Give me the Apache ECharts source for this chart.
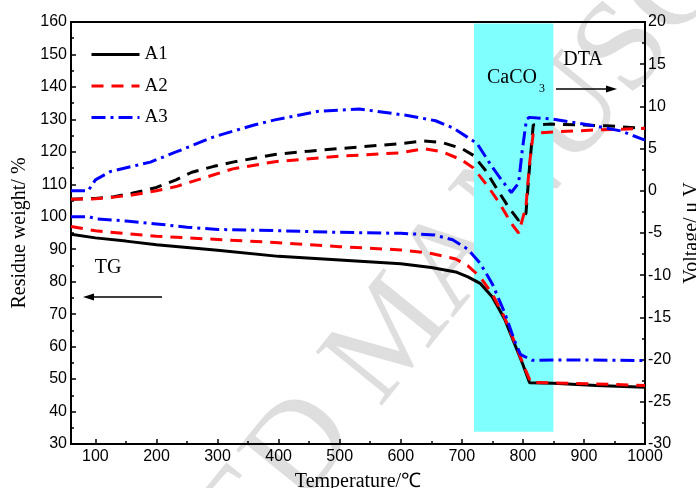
<!DOCTYPE html>
<html>
<head>
<meta charset="utf-8">
<script src="https://cdn.jsdelivr.net/npm/echarts@6.0.0/dist/echarts.min.js"></script>
<style>
  html, body { margin: 0; padding: 0; background: #fff; }
  #chart { width: 696px; height: 488px; }
</style>
</head>
<body>
<div id="chart"></div>
<script>
// --- data ---
// TG curves (left axis, residue weight %)
var tgT_A1 = [60, 100, 150, 200, 300, 400, 500, 600, 650, 690, 710, 730, 750, 770, 785, 800, 811, 850, 920, 1000];
var tgW_A1 = [94.6, 93.5, 92.5, 91.4, 89.7, 87.8, 86.7, 85.5, 84.4, 83.0, 81.5, 79.5, 75.3, 68.5, 61.5, 54.5, 48.9, 48.7, 48.0, 47.5];
var tgT_A2 = [60, 100, 150, 200, 300, 400, 500, 600, 650, 690, 710, 730, 750, 770, 785, 800, 813, 850, 920, 1000];
var tgW_A2 = [97.0, 95.7, 94.8, 94.0, 93.0, 92.0, 90.8, 89.8, 88.7, 87.0, 84.9, 81.5, 76.2, 69.0, 62.0, 54.8, 49.0, 48.8, 48.5, 48.0];
var tgT_A3 = [60, 90, 100, 150, 200, 250, 300, 400, 500, 600, 655, 685, 710, 730, 750, 770, 786, 796, 815, 900, 1000];
var tgW_A3 = [100, 100, 99.4, 98.7, 97.8, 96.8, 96.1, 95.7, 95.2, 94.9, 94.4, 92.9, 90.0, 85.7, 79.3, 70.5, 62.0, 57.6, 55.8, 55.9, 55.7];

// DTA curves (right axis, voltage uV)
var dtaT_A1 = [60, 100, 130, 160, 200, 232, 258, 294, 325, 394, 450, 500, 600, 638, 669, 700, 719, 738, 762, 778, 793, 805, 811, 817, 843, 893, 937, 1000];
var dtaV_A1 = [-1.0, -0.9, -0.7, -0.3, 0.4, 1.3, 2.2, 2.9, 3.4, 4.3, 4.7, 5.0, 5.6, 5.9, 5.7, 5.0, 4.2, 2.5, -0.3, -2.1, -3.5, -2.7, 2.9, 7.8, 7.9, 7.8, 7.7, 7.4];
var dtaT_A2 = [60, 100, 130, 160, 200, 232, 294, 325, 394, 500, 600, 638, 669, 700, 719, 743, 762, 781, 793, 805, 811, 817, 856, 917, 1000];
var dtaV_A2 = [-1.0, -0.95, -0.75, -0.5, 0.0, 0.5, 1.9, 2.6, 3.45, 4.1, 4.5, 5.0, 4.6, 3.65, 2.7, 0.5, -1.5, -3.85, -5.0, -1.9, 3.3, 6.8, 7.0, 7.2, 7.4];
var dtaT_A3 = [60, 88, 100, 125, 190, 232, 294, 360, 394, 463, 532, 613, 657, 687, 725, 749, 766, 781, 793, 799, 806, 811, 849, 917, 960, 1000];
var dtaV_A3 = [0, 0, 1.3, 2.3, 3.4, 4.6, 6.4, 7.8, 8.4, 9.4, 9.7, 8.9, 8.3, 7.4, 5.6, 2.9, 1.2, -0.2, 0.9, 4.8, 8.5, 8.7, 8.5, 7.7, 7.1, 6.0];

// CaCO3 decomposition band
var bandT = [720, 850];
var bandW = [33.8, 159.5];

// temperature ticks
var xTicks = [100, 200, 300, 400, 500, 600, 700, 800, 900, 1000];
var xMinorTicks = [150, 250, 350, 450, 550, 650, 750, 850, 950];

var names = ['A1', 'A2', 'A3'];

var serif = '"Liberation Serif", "Times New Roman", serif';
var sans = '"Liberation Sans", Arial, sans-serif';
var dashed = [12, 8];
var dashDot = [14, 5, 3, 5];

function pairs(xs, ys) {
  return xs.map(function(x, i) { return [x, ys[i]]; });
}

function curve(name, data, yIdx, color, type) {
  return {
    name: name,
    type: 'line',
    yAxisIndex: yIdx,
    data: data,
    symbol: 'none',
    showSymbol: false,
    z: 3,
    lineStyle: { color: color, width: 3, type: type },
    itemStyle: { color: color }
  };
}

var tick = { color: '#000', width: 1.5 };

var chart = echarts.init(document.getElementById('chart'), null, { renderer: 'canvas' });

var tgA1 = curve('A1', pairs(tgT_A1, tgW_A1), 0, '#000000', 'solid');
tgA1.markArea = {
  silent: true,
  itemStyle: { color: '#80ffff' },
  data: [[{ xAxis: bandT[0], yAxis: bandW[0] }, { xAxis: bandT[1], yAxis: bandW[1] }]]
};

chart.setOption({
  animation: false,
  backgroundColor: '#fff',
  grid: {
    left: 71, right: 51, top: 22, bottom: 44,
    show: true, borderColor: '#000', borderWidth: 2,
    outerBoundsMode: 'none'
  },
  legend: {
    data: names,
    orient: 'vertical',
    left: 85, top: 40,
    itemWidth: 48, itemHeight: 14, itemGap: 12.5,
    itemStyle: { opacity: 0 },
    lineStyle: { width: 3 },
    textStyle: { fontFamily: serif, fontSize: 19, color: '#000' }
  },
  xAxis: [{
    type: 'value', min: 60, max: 1000,
    axisLine: { show: true, onZero: false, lineStyle: { color: '#000', width: 2 } },
    axisTick: { show: true, inside: true, length: 5, lineStyle: tick, customValues: xTicks },
    axisLabel: { color: '#000', fontFamily: sans, fontSize: 16, margin: 5, customValues: xTicks,
      formatter: function(v) { return String(v); } },
    splitLine: { show: false },
    name: 'Temperature/℃', nameLocation: 'middle', nameGap: 28,
    nameTextStyle: { fontFamily: serif, fontSize: 20, color: '#000' }
  }, {
    type: 'value', min: 60, max: 1000, position: 'bottom',
    axisLine: { show: false, onZero: false },
    axisTick: { show: true, inside: true, length: 3, lineStyle: tick, customValues: xMinorTicks },
    axisLabel: { show: false },
    splitLine: { show: false }
  }],
  yAxis: [{
    type: 'value', min: 30, max: 160, interval: 10, position: 'left',
    axisLine: { show: true, onZero: false, lineStyle: { color: '#000', width: 2 } },
    axisTick: { show: true, inside: true, length: 5, lineStyle: tick },
    minorTick: { show: true, splitNumber: 2, length: 3, lineStyle: tick },
    axisLabel: { color: '#000', fontFamily: sans, fontSize: 16, margin: 4 },
    splitLine: { show: false },
    name: 'Residue weight/ %', nameLocation: 'middle', nameRotate: 90, nameGap: 39,
    nameTextStyle: { fontFamily: serif, fontSize: 20, color: '#000' }
  }, {
    type: 'value', min: -30, max: 20, interval: 5, position: 'right',
    axisLine: { show: true, onZero: false, lineStyle: { color: '#000', width: 2 } },
    axisTick: { show: true, inside: true, length: 5, lineStyle: tick },
    minorTick: { show: true, splitNumber: 2, length: 3, lineStyle: tick },
    axisLabel: { color: '#000', fontFamily: sans, fontSize: 16, margin: 3 },
    splitLine: { show: false },
    name: 'Voltage/ μ V', nameLocation: 'middle', nameRotate: 90, nameGap: 33,
    nameTextStyle: { fontFamily: serif, fontSize: 20, color: '#000' }
  }],
  graphic: [
    // watermark
    { type: 'text', x: 395, y: 335, rotation: 51 * Math.PI / 180, z: -10, silent: true,
      style: { text: 'ACCEPTED MANUSCRIPT', font: '130px "Liberation Serif"', fill: '#dedede', align: 'center', verticalAlign: 'middle' } },
    // TG label + arrow
    { type: 'text', x: 108, y: 268, z: 100,
      style: { text: 'TG', font: '20px "Liberation Serif"', fill: '#000', align: 'center', verticalAlign: 'middle' } },
    { type: 'line', z: 100, shape: { x1: 162, y1: 297, x2: 90, y2: 297 }, style: { stroke: '#000', lineWidth: 1.5 } },
    { type: 'polygon', z: 100, shape: { points: [[83, 297], [94, 293.5], [94, 300.5]] }, style: { fill: '#000' } },
    // DTA label + arrow
    { type: 'text', x: 583, y: 60, z: 100,
      style: { text: 'DTA', font: '20px "Liberation Serif"', fill: '#000', align: 'center', verticalAlign: 'middle' } },
    { type: 'line', z: 100, shape: { x1: 556, y1: 89, x2: 610, y2: 89 }, style: { stroke: '#000', lineWidth: 1.5 } },
    { type: 'polygon', z: 100, shape: { points: [[617, 89], [606, 85.5], [606, 92.5]] }, style: { fill: '#000' } },
    // CaCO3
    { type: 'text', x: 512, y: 78, z: 100,
      style: { text: 'CaCO', font: '20px "Liberation Serif"', fill: '#000', align: 'center', verticalAlign: 'middle' } },
    { type: 'text', x: 542, y: 89, z: 100,
      style: { text: '3', font: '12px "Liberation Serif"', fill: '#000', align: 'center', verticalAlign: 'middle' } }
  ],
  series: [
    tgA1,
    curve('A2', pairs(tgT_A2, tgW_A2), 0, '#ff0000', dashed),
    curve('A3', pairs(tgT_A3, tgW_A3), 0, '#0000ff', dashDot),
    curve('A1', pairs(dtaT_A1, dtaV_A1), 1, '#000000', dashed),
    curve('A2', pairs(dtaT_A2, dtaV_A2), 1, '#ff0000', dashed),
    curve('A3', pairs(dtaT_A3, dtaV_A3), 1, '#0000ff', dashDot)
  ]
});
window.addEventListener('resize', function() { chart.resize(); });
</script>
</body>
</html>
